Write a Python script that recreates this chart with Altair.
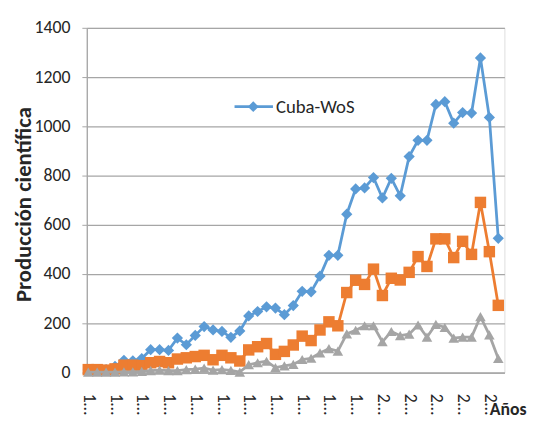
import altair as alt
import pandas as pd

years = [1967, 1968, 1969, 1970, 1971, 1972, 1973, 1974, 1975, 1976,
         1977, 1978, 1979, 1980, 1981, 1982, 1983, 1984, 1985, 1986,
         1987, 1988, 1989, 1990, 1991, 1992, 1993, 1994, 1995, 1996,
         1997, 1998, 1999, 2000, 2001, 2002, 2003, 2004, 2005, 2006,
         2007, 2008, 2009, 2010, 2011, 2012, 2013]

cuba_wos = [10, 12, 12, 25, 50, 48, 57, 93, 93, 90,
            140, 113, 151, 187, 173, 167, 143, 169, 230, 248,
            267, 262, 235, 272, 330, 328, 392, 476, 476, 643,
            746, 750, 792, 709, 789, 718, 877, 943, 943, 1089,
            1100, 1013, 1056, 1054, 1278, 1036, 545]

serie_2 = [12, 12, 10, 15, 30, 30, 28, 40, 45, 40,
           55, 60, 65, 70, 52, 70, 60, 47, 92, 105,
           118, 74, 86, 112, 148, 130, 173, 206, 190, 325,
           375, 358, 420, 313, 383, 376, 407, 471, 431, 543,
           543, 467, 533, 480, 691, 491, 273]

serie_3 = [2, 2, 2, 2, 3, 3, 5, 8, 10, 8,
           8, 12, 14, 18, 10, 12, 9, 2, 32, 40,
           46, 20, 27, 33, 53, 58, 80, 97, 87, 157,
           172, 190, 190, 125, 167, 150, 156, 193, 144, 196,
           183, 140, 144, 144, 227, 153, 57]

y_ticks = [0, 200, 400, 600, 800, 1000, 1200, 1400]
x_ticks = years[::3]

FONT = "Carlito, Liberation Sans Narrow, Open Sans, sans-serif"
TXT = "#262626"
GRID = "#A6A6A6"

series_names = ["Cuba-WoS", "Serie 2", "Serie 3"]
rows = []
for name, vals in zip(series_names, [cuba_wos, serie_2, serie_3]):
    for yr, v in zip(years, vals):
        rows.append({"year": yr, "value": v, "serie": name})
df = pd.DataFrame(rows)

x_enc = alt.X("year:Q",
              scale=alt.Scale(domain=[years[0] - 0.166, years[-1] + 0.69], nice=False, zero=False),
              axis=alt.Axis(values=x_ticks, labelAngle=90, labelAlign="left",
                            labelBaseline="middle", labelPadding=21, ticks=False, tickSize=0,
                            labelExpr="substring(toString(datum.value), 0, 1) + '…'",
                            labelFontSize=18, labelFont=FONT, labelColor=TXT,
                            grid=False, domainColor=GRID, domainWidth=1.3, title=None))

y_enc = alt.Y("value:Q", scale=alt.Scale(domain=[0, 1400], nice=False),
              axis=alt.Axis(values=y_ticks, format="d", labelFontSize=18, labelFont=FONT,
                            labelColor=TXT, tickSize=5, tickColor=GRID, labelPadding=12,
                            grid=True, gridColor=GRID, gridWidth=1.3, domainColor=GRID,
                            domainWidth=1.3,
                            title="Producción científica", titleFont=FONT, titleFontSize=23,
                            titleFontWeight="bold", titleColor=TXT, titleAngle=-90,
                            titleX=-64, titleY=179, titleAlign="center",
                            titleBaseline="middle"))


def series(name, color, shape, size):
    base = alt.Chart(df).transform_filter(alt.datum.serie == name)
    line = base.mark_line(color=color, strokeWidth=2.8).encode(x=x_enc, y=y_enc)
    pts = base.mark_point(color=color, shape=shape, size=size, filled=True,
                          opacity=1).encode(x=x_enc, y=y_enc)
    return [line, pts]


layers = []
layers += series("Cuba-WoS", "#5B9BD5", "diamond", 130)
layers += series("Serie 2", "#ED7D31", "square", 135)
layers += series("Serie 3", "#A5A5A5", "triangle-up", 115)

leg_df = pd.DataFrame({"name": ["Cuba-WoS"]})
leg_line = alt.Chart(leg_df).mark_rule(color="#5B9BD5", strokeWidth=2.8).encode(
    x=alt.value(150), x2=alt.value(189), y=alt.value(80))
leg_pt = alt.Chart(leg_df).mark_point(color="#5B9BD5", shape="diamond", size=120,
                                      filled=True, opacity=1).encode(
    x=alt.value(169), y=alt.value(80))
leg_txt = alt.Chart(leg_df).mark_text(align="left", baseline="middle", font=FONT,
                                      fontSize=19, color=TXT).encode(
    x=alt.value(192), y=alt.value(80), text="name:N")

anos_df = pd.DataFrame({"t": ["Años"]})
anos = alt.Chart(anos_df).mark_text(align="left", baseline="middle", font=FONT,
                                    fontSize=18, fontWeight="bold", color=TXT).encode(
    x=alt.value(409), y=alt.value(388), text="t:N")

chart = alt.layer(*layers, leg_line, leg_pt, leg_txt, anos).properties(
    width=424, height=350,
    autosize=alt.AutoSizeParams(type="none"),
    padding={"left": 80, "top": 17, "right": 28, "bottom": 44},
).configure_view(strokeWidth=0).configure(background="white")

chart.save("out.html", embed_options={"renderer": "svg", "actions": False})
